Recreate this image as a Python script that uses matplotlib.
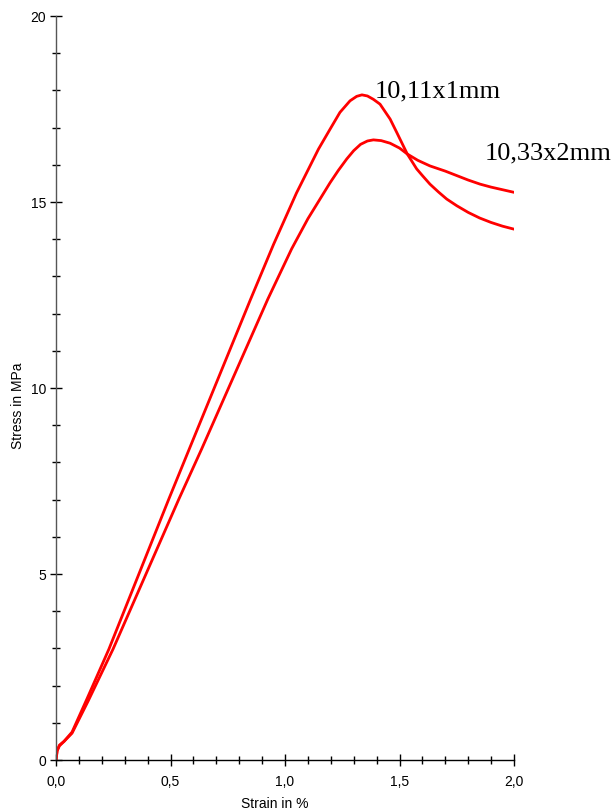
import matplotlib
matplotlib.use("Agg")
import matplotlib.pyplot as plt
from matplotlib.ticker import MultipleLocator, FuncFormatter

# Data
strain_1mm = [0, 0.005, 0.015, 0.035, 0.07, 0.135, 0.231, 0.493, 0.582, 0.850, 0.95,
              1.05, 1.146, 1.197, 1.240, 1.284, 1.313, 1.336, 1.36, 1.386, 1.415,
              1.459, 1.488, 1.534, 1.575, 1.60, 1.633, 1.67, 1.706, 1.75, 1.80,
              1.85, 1.90, 1.95, 2.0]
stress_1mm = [0, 0.25, 0.40, 0.50, 0.75, 1.64, 2.98, 7.02, 8.36, 12.39, 13.86,
              15.24, 16.42, 16.96, 17.41, 17.72, 17.84, 17.88, 17.85, 17.76, 17.63,
              17.23, 16.87, 16.29, 15.89, 15.71, 15.48, 15.27, 15.08, 14.90, 14.72,
              14.57, 14.45, 14.35, 14.27]

strain_2mm = [0, 0.005, 0.015, 0.035, 0.07, 0.14, 0.249, 0.537, 0.636, 0.925, 1.029,
              1.10, 1.16, 1.197, 1.233, 1.27, 1.30, 1.33, 1.36, 1.386, 1.42, 1.459,
              1.50, 1.534, 1.58, 1.633, 1.70, 1.75, 1.80, 1.852, 1.90, 2.0]
stress_2mm = [0, 0.25, 0.38, 0.50, 0.72, 1.58, 2.98, 7.02, 8.36, 12.39, 13.74,
              14.55, 15.15, 15.52, 15.85, 16.16, 16.38, 16.55, 16.64, 16.67, 16.65, 16.58,
              16.45, 16.29, 16.12, 15.97, 15.83, 15.71, 15.59, 15.48, 15.40, 15.26]

labels = ["10,11x1mm", "10,33x2mm"]
x_label = "Strain in %"
y_label = "Stress in MPa"

plt.rcParams['font.family'] = ['Liberation Sans', 'DejaVu Sans']

fig = plt.figure(figsize=(6.13, 8.12), dpi=100)
ax = fig.add_axes([56/613, 51/812, 458/613, 744/812])

ax.plot(strain_1mm, stress_1mm, color='#ff0000', lw=2.0,
        solid_joinstyle='round', solid_capstyle='round')
ax.plot(strain_2mm, stress_2mm, color='#ff0000', lw=2.0,
        solid_joinstyle='round', solid_capstyle='round')

ax.set_xlim(0, 2.0)
ax.set_ylim(0, 20)

for s in ['top', 'right']:
    ax.spines[s].set_visible(False)
ax.spines['left'].set_color('#555555')
ax.spines['bottom'].set_color('black')
ax.spines['left'].set_linewidth(1.0)
ax.spines['bottom'].set_linewidth(1.0)

ax.xaxis.set_major_locator(MultipleLocator(0.5))
ax.xaxis.set_minor_locator(MultipleLocator(0.1))
ax.yaxis.set_major_locator(MultipleLocator(5))
ax.yaxis.set_minor_locator(MultipleLocator(1))
ax.xaxis.set_major_formatter(FuncFormatter(lambda v, p: f"{v:.1f}".replace('.', ',')))
ax.yaxis.set_major_formatter(FuncFormatter(lambda v, p: f"{v:.0f}"))

ax.tick_params(axis='both', which='major', direction='inout', length=9, width=1.0,
               labelsize=10, color='black')
ax.tick_params(axis='both', which='minor', direction='inout', length=5.5, width=1.0,
               color='black')
ax.tick_params(axis='x', which='major', pad=5.5)
ax.tick_params(axis='y', which='major', pad=2.5)

ax.set_xlabel(x_label, fontsize=10)
ax.xaxis.set_label_coords(0.477, -0.049)
ax.set_ylabel(y_label, fontsize=10)
ax.yaxis.set_label_coords(-0.067, 0.478)

ax.text(1.393, 17.85, labels[0], fontsize=19, family=['Liberation Serif', 'DejaVu Serif'],
        ha='left', va='baseline', clip_on=False)
ax.text(1.873, 16.16, labels[1], fontsize=19, family=['Liberation Serif', 'DejaVu Serif'],
        ha='left', va='baseline', clip_on=False)

fig.savefig("out.png", dpi=100)
